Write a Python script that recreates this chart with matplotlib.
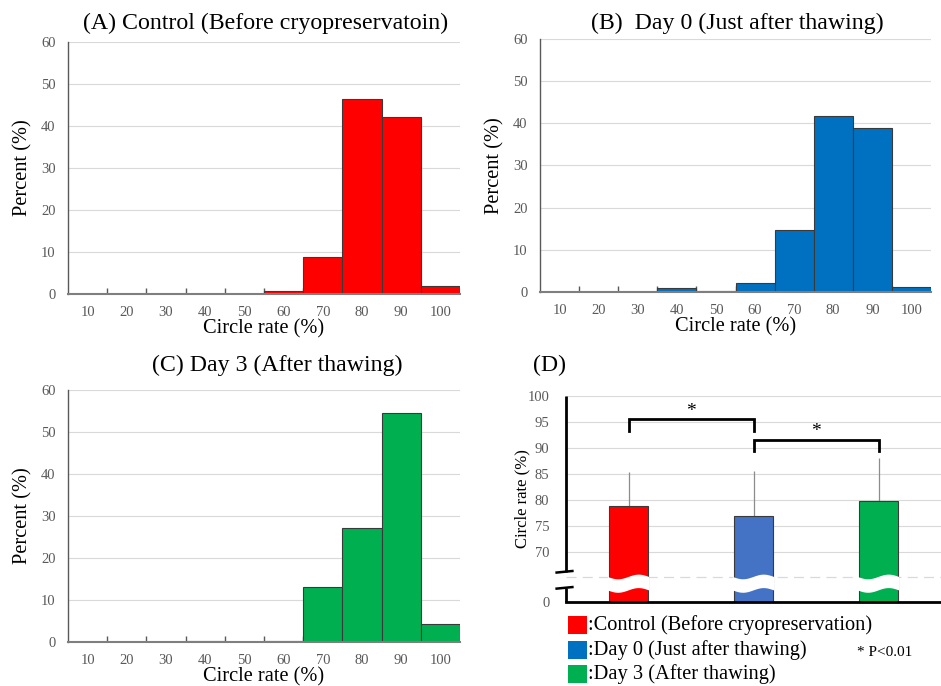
import numpy as np
import matplotlib
matplotlib.use("Agg")
import matplotlib.pyplot as plt
from matplotlib.patches import Rectangle, Polygon
import matplotlib.transforms as mtransforms

plt.rcParams['font.family'] = ['Liberation Serif', 'DejaVu Serif']

# ---------------- data ----------------
bins = [10, 20, 30, 40, 50, 60, 70, 80, 90, 100]
control_pct = [0, 0, 0, 0, 0, 0.8, 8.7, 46.5, 42.2, 2.0]
day0_pct = [0, 0, 0, 0.87, 0.3, 2.1, 14.7, 41.7, 39.0, 1.3]
day3_pct = [0, 0, 0, 0.3, 0, 0.25, 13.2, 27.1, 54.5, 4.4]

groups = ['Control', 'Day 0', 'Day 3']
mean_rate = [78.7, 76.9, 79.75]
sd_rate = [6.7, 8.6, 8.25]
sig_pairs = [(0, 1), (1, 2)]
sig_height = [95.5, 91.5]

titles = ['(A) Control (Before cryopreservatoin)',
          '(B)  Day 0 (Just after thawing)',
          '(C) Day 3 (After thawing)',
          '(D)']
legend_labels = [':Control (Before cryopreservation)',
                 ':Day 0 (Just after thawing)',
                 ':Day 3 (After thawing)']

hist_colors = ['#FF0000', '#0070C0', '#00B050']
bar_colors = ['#FF0000', '#4472C4', '#00B050']
legend_colors = ['#FF0000', '#0070C0', '#00B050']

# ---------------- layout ----------------
W, H = 941, 686
fig = plt.figure(figsize=(W / 100, H / 100), dpi=100)


def box(l, t, r, b):
    return [l / W, 1 - b / H, (r - l) / W, (b - t) / H]


tick_grey = '#595959'


def hist_panel(rect, values, color, title, title_xy):
    ax = fig.add_axes(rect)
    ax.bar(bins, values, width=10, color=color, edgecolor='#3a3a3a',
           linewidth=0.8, zorder=3)
    ax.set_xlim(5, 105)
    ax.set_ylim(0, 60)
    ax.set_yticks(np.arange(0, 61, 10))
    ax.set_xticks(bins)
    ax.set_xticks(np.arange(15, 100, 10), minor=True)
    ax.tick_params(axis='x', which='major', length=0, pad=9,
                   labelsize=10.5, labelcolor=tick_grey)
    ax.tick_params(axis='x', which='minor', length=4, direction='in',
                   color='#595959', width=1)
    ax.tick_params(axis='y', length=0, pad=9, labelsize=10.5,
                   labelcolor=tick_grey)
    ax.grid(axis='y', color='#d9d9d9', linewidth=0.8, zorder=0)
    ax.set_axisbelow(True)
    for s in ['top', 'right']:
        ax.spines[s].set_visible(False)
    ax.spines['left'].set_color('#595959')
    ax.spines['left'].set_linewidth(1.0)
    ax.spines['bottom'].set_color('#7f7f7f')
    ax.spines['bottom'].set_linewidth(1.5)
    ax.spines['bottom'].set_zorder(4)
    ax.set_xlabel('Circle rate (%)', fontsize=14.7)
    ax.xaxis.label.set_verticalalignment('center')
    ax.xaxis.set_label_coords(0.5, -35 / (rect[3] * H))
    ax.set_ylabel('Percent (%)', fontsize=14.7)
    ax.yaxis.label.set_verticalalignment('center')
    ax.yaxis.set_label_coords(-45 / (rect[2] * W), 0.5)
    fig.text(title_xy[0] / W, 1 - title_xy[1] / H, title, fontsize=17.2,
             ha='center', va='center')
    return ax


hist_panel(box(68, 42, 460, 294), control_pct, hist_colors[0], titles[0], (266, 23))
hist_panel(box(540, 39, 931, 292), day0_pct, hist_colors[1], titles[1], (737, 23))
hist_panel(box(68, 390, 460, 642), day3_pct, hist_colors[2], titles[2], (277, 365))

# ---------------- panel D ----------------
rectD = box(566, 396, 941, 602)
axd = fig.add_axes(rectD)
x = np.arange(len(groups))
ybot = 60.27
axd.set_xlim(-0.5, 2.5)
axd.set_ylim(ybot, 100)
bw = 0.31
axd.bar(x, mean_rate, width=bw, color=bar_colors, edgecolor='#3a3a3a',
        linewidth=0.8, zorder=3)
axd.errorbar(x, mean_rate, yerr=[np.zeros(len(x)), sd_rate], fmt='none',
             ecolor='#8c8c8c', elinewidth=0.9, capsize=0, zorder=2)

# wavy white break bands across bars
band_c, band_h, band_a = 63.8, 1.3, 0.45
for xi in x:
    xs = np.linspace(xi - bw / 2 - 0.01, xi + bw / 2 + 0.01, 60)
    t = (xs - xs[0]) / (xs[-1] - xs[0])
    wave = -band_a * np.sin(2 * np.pi * t)
    upper = band_c + band_h + wave
    lower = band_c - band_h + wave
    pts = np.concatenate([np.column_stack([xs, upper]),
                          np.column_stack([xs[::-1], lower[::-1]])])
    axd.add_patch(Polygon(pts, closed=True, facecolor='white',
                          edgecolor='none', zorder=4))

yt = [ybot, 70, 75, 80, 85, 90, 95, 100]
axd.set_yticks(yt)
axd.set_yticklabels(['0'] + [str(v) for v in yt[1:]])
axd.set_xticks([])
axd.tick_params(axis='y', length=0, pad=12, labelsize=10.5,
                labelcolor=tick_grey)
axd.grid(axis='y', color='#d9d9d9', linewidth=0.8, zorder=0)
axd.set_axisbelow(True)
axd.axhline(65, color='#d9d9d9', linewidth=0.9, dashes=(8, 5), zorder=1)
for s in ['top', 'right', 'left']:
    axd.spines[s].set_visible(False)
axd.spines['bottom'].set_color('black')
axd.spines['bottom'].set_linewidth(2)
axd.spines['bottom'].set_zorder(5)

# broken y-axis
trans = mtransforms.blended_transform_factory(axd.transAxes, axd.transData)
axd.plot([0, 0], [66.1, 100], color='black', lw=2, transform=trans,
         clip_on=False, zorder=5, solid_capstyle='butt')
axd.plot([0, 0], [ybot, 63.0], color='black', lw=2, transform=trans,
         clip_on=False, zorder=5, solid_capstyle='butt')
for yb in [66.1, 63.0]:
    axd.plot([-0.025, 0.017], [yb - 0.15, yb + 0.15], color='black', lw=1.8,
             transform=trans, clip_on=False, zorder=5)

# significance brackets
for (i, j), hgt in zip(sig_pairs, sig_height):
    axd.plot([x[i], x[i], x[j], x[j]], [hgt - 2.2, hgt, hgt, hgt - 2.2],
             color='black', lw=2, zorder=5, solid_joinstyle='miter')
    axd.text((x[i] + x[j]) / 2, hgt + 1.6, '*', ha='center', va='center',
             fontsize=14)

axd.set_ylabel('Circle rate (%)', fontsize=12)
axd.yaxis.label.set_verticalalignment('center')
axd.yaxis.set_label_coords(-44 / (rectD[2] * W), 0.5)
fig.text(549 / W, 1 - 365 / H, titles[3], fontsize=17.2, ha='center', va='center')

# legend
leg_y = [625, 650, 674]
for lab, col, yy in zip(legend_labels, legend_colors, leg_y):
    fig.patches.append(Rectangle((568 / W, 1 - (yy + 9) / H), 19 / W, 18 / H,
                                 facecolor=col, edgecolor='none',
                                 transform=fig.transFigure, figure=fig))
    fig.text(588 / W, 1 - yy / H, lab, fontsize=14.7, ha='left', va='center')
fig.text(857 / W, 1 - 653 / H, '* P<0.01', fontsize=11, ha='left', va='center')

fig.savefig('out.png', dpi=100)
